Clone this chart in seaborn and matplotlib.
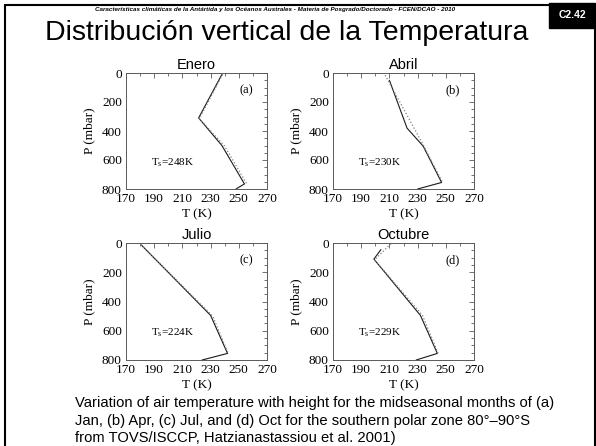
import matplotlib
matplotlib.use('Agg')
import matplotlib.pyplot as plt
import seaborn as sns

# Monthly profiles, T (K) vs P (mbar): solid = TOVS, dotted = second curve
months = ['Enero', 'Abril', 'Julio', 'Octubre']
tags = ['(a)', '(b)', '(c)', '(d)']
surface_temp = ['248K', '230K', '224K', '229K']

solid_t = [
    [238, 221.5, 238, 254, 248],
    [210, 222.5, 234, 247, 230],
    [181, 230, 242, 224],
    [204, 199, 232, 244, 229],
]
solid_p = [
    [10, 310, 500, 765, 800],
    [50, 380, 505, 755, 800],
    [15, 495, 755, 800],
    [45, 110, 495, 755, 800],
]
dotted_t = [
    [238.5, 222, 240, 256],
    [207, 234.5, 248],
    [180.5, 231.5, 242.5],
    [211, 199.5, 233.5, 245],
]
dotted_p = [
    [10, 315, 505, 770],
    [15, 505, 760],
    [10, 500, 755],
    [5, 115, 495, 765],
]

x_ticks = [170, 190, 210, 230, 250, 270]
y_ticks = [0, 200, 400, 600, 800]

caption = [
    'Variation of air temperature with height for the midseasonal months of (a)',
    'Jan, (b) Apr, (c) Jul, and (d) Oct for the southern polar zone 80°–90°S',
    'from TOVS/ISCCP, Hatzianastassiou et al. 2001)',
]

sns.set_theme(style='white')
plt.rcParams['font.family'] = ['Liberation Sans', 'DejaVu Sans']
plt.rcParams['mathtext.fontset'] = 'custom'
plt.rcParams['mathtext.rm'] = 'Liberation Serif'
for key in ['text.color', 'axes.labelcolor', 'xtick.color', 'ytick.color']:
    plt.rcParams[key] = 'black'

W, H = 596, 446
fig = plt.figure(figsize=(W / 100, H / 100), dpi=100)
fig.patch.set_facecolor('white')

# panel boxes in pixels (left, top, right, bottom)
boxes = [(126, 73, 267, 189), (333, 73, 474, 189),
         (126, 243, 267, 360), (333, 243, 474, 360)]

serif = 'Liberation Serif'
for i, (l, t, r, b) in enumerate(boxes):
    ax = fig.add_axes([l / W, 1 - b / H, (r - l) / W, (b - t) / H])
    sns.lineplot(x=solid_t[i], y=solid_p[i], sort=False, estimator=None,
                 color='0.1', lw=0.8, ax=ax)
    sns.lineplot(x=dotted_t[i], y=dotted_p[i], sort=False, estimator=None,
                 color='0.5', lw=0.9, linestyle=':', ax=ax)
    ax.set_xlim(170, 270)
    ax.set_ylim(800, 0)
    ax.set_xticks(x_ticks)
    ax.set_xticks(range(170, 271, 10), minor=True)
    ax.set_yticks(y_ticks)
    ax.set_yticks(range(0, 801, 50), minor=True)
    ax.tick_params(which='both', direction='in', top=True, right=True,
                   color='0.35', width=0.6)
    ax.tick_params(which='major', length=3.5, labelsize=9.5, pad=3)
    ax.tick_params(which='minor', length=2)
    for lab in ax.get_xticklabels() + ax.get_yticklabels():
        lab.set_family(serif)
    for sp in ax.spines.values():
        sp.set_color('0.35')
        sp.set_linewidth(0.7)
    ax.set_xlabel('T (K)', family=serif, fontsize=9.5, labelpad=2)
    ax.set_ylabel('P (mbar)', family=serif, fontsize=9.5, labelpad=5)
    ax.set_title(months[i], fontsize=10.5, pad=3)
    ax.text(255, 120, tags[i], family=serif, fontsize=9, ha='center', va='center')
    ax.text(203, 615, r'T$_\mathregular{s}$=' + surface_temp[i], family=serif,
            fontsize=8, ha='center', va='center')

# header
fig.text(275 / W, 1 - 10 / H,
         'Características climáticas de la Antártida y los Océanos Australes - '
         'Materia de Posgrado/Doctorado - FCEN/DCAO - 2010',
         fontsize=4.5, style='italic', weight='bold', ha='center', va='center')
fig.text(287 / W, 1 - 33 / H, 'Distribución vertical de la Temperatura',
         fontsize=20.5, ha='center', va='center')

# slide frame and page tag
fig.add_artist(plt.Rectangle((5 / W, -0.02), 590 / W, 1.02 - 5 / H,
                             transform=fig.transFigure, fill=False,
                             lw=1.5, color='black'))
fig.add_artist(plt.Rectangle((549 / W, 1 - 28 / H), 46 / W, 25 / H,
                             transform=fig.transFigure, color='black'))
fig.text(572 / W, 1 - 15.5 / H, 'C2.42', color='white', weight='bold',
         fontsize=7.5, ha='center', va='center')

for k, line in enumerate(caption):
    fig.text(75 / W, 1 - (403 + 17.5 * k) / H, line, fontsize=10.6,
             ha='left', va='center')

fig.savefig('out.png', dpi=100)
